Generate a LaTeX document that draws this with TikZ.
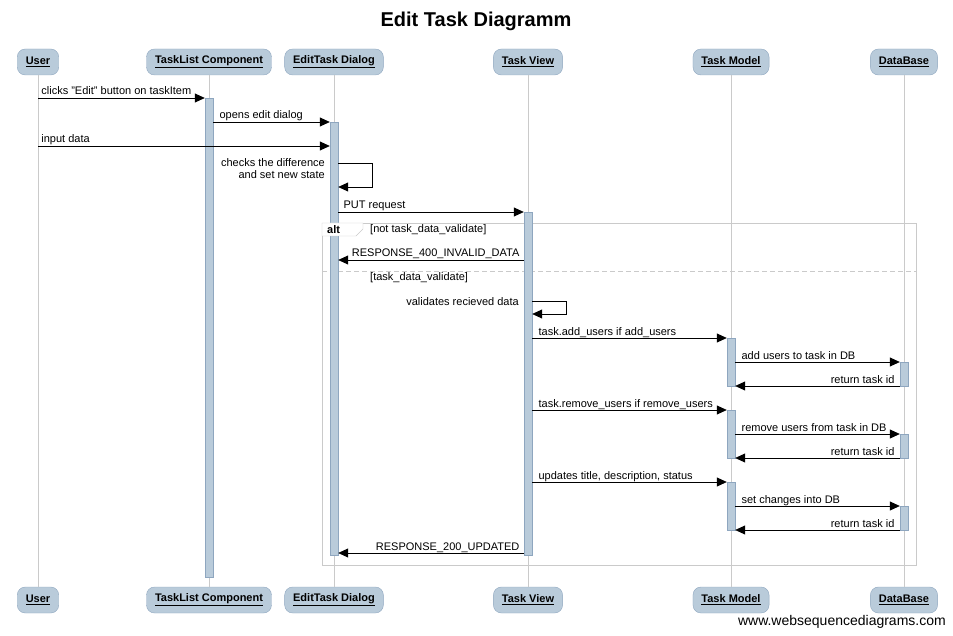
\documentclass[tikz,border=0pt]{standalone}
\usepackage{fontspec}
\setmainfont{Liberation Sans}
\usetikzlibrary{arrows.meta}
\definecolor{boxblue}{HTML}{B9CBDA}
\definecolor{boxline}{HTML}{8EA6BF}
\definecolor{lifegray}{HTML}{CACACA}

\begin{document}
\begin{tikzpicture}[x=1pt,y=-1pt,
  actor/.style={draw=boxline,fill=boxblue,rounded corners=8pt,minimum height=26pt,
    inner xsep=8.5pt,font=\fontsize{11}{13}\selectfont\bfseries},
  act/.style={draw=boxline,fill=boxblue,minimum width=8pt,inner sep=0pt,anchor=north},
  msg/.style={-{Triangle[length=10pt,width=9pt]},line width=0.8pt},
  lbl/.style={font=\fontsize{11}{13}\selectfont,inner sep=0pt}]
  \useasboundingbox (0,0) rectangle (953,636);
  \node[font=\fontsize{20}{24}\selectfont\bfseries] (title) at (476,21) {Edit Task Diagramm};
  % participants, top and bottom
  \node[actor] (usr) at (38,62) {\underline{User}};
  \node[actor] (tlc) at (209,62) {\underline{TaskList Component}};
  \node[actor] (etd) at (334,62) {\underline{EditTask Dialog}};
  \node[actor] (tv) at (528,62) {\underline{Task View}};
  \node[actor] (tm) at (731,62) {\underline{Task Model}};
  \node[actor] (db) at (904,62) {\underline{DataBase}};
  \node[actor] (usrb) at (38,600) {\underline{User}};
  \node[actor] (tlcb) at (209,600) {\underline{TaskList Component}};
  \node[actor] (etdb) at (334,600) {\underline{EditTask Dialog}};
  \node[actor] (tvb) at (528,600) {\underline{Task View}};
  \node[actor] (tmb) at (731,600) {\underline{Task Model}};
  \node[actor] (dbb) at (904,600) {\underline{DataBase}};
  \foreach \n in {usr,tlc,etd,tv,tm,db} \draw[lifegray] (\n) -- (\n b);
  % alt frame
  \draw[lifegray] (322,223) rectangle (916,565);
  \draw[lifegray,dash pattern=on 5pt off 3pt] (322,271) -- (916,271);
  \node[lbl,anchor=west] (c1) at (370,230) {[not task\_data\_validate]};
  \node[lbl,anchor=west] (c2) at (370,278) {[task\_data\_validate]};
  % activations
  \node[act,minimum height=479pt] (tlcA) at (209,98) {};
  \node[act,minimum height=433pt] (etdA) at (334,122) {};
  \node[act,minimum height=343pt] (tvA) at (528,212) {};
  \node[act,minimum height=48pt] (tmA1) at (731,338) {};
  \node[act,minimum height=48pt] (tmA2) at (731,410) {};
  \node[act,minimum height=48pt] (tmA3) at (731,482) {};
  \node[act,minimum height=24pt] (dbA1) at (904,362) {};
  \node[act,minimum height=24pt] (dbA2) at (904,434) {};
  \node[act,minimum height=24pt] (dbA3) at (904,506) {};
  % alt tab over the bar
  \draw[lifegray,fill=white] (322,223) -- (322,236) -- (356,236) -- (363,229) -- (363,223) -- cycle;
  \node[lbl,font=\fontsize{11}{13}\selectfont\bfseries,anchor=west] (alt) at (327,230) {alt};
  % messages
  \draw[msg] (usr |- 0,98) -- (tlcA.west |- 0,98)
    node[lbl,pos=0,anchor=base west,xshift=3pt,yshift=3pt] {clicks "Edit" button on taskItem};
  \draw[msg] (tlcA.east |- 0,122) -- (etdA.west |- 0,122)
    node[lbl,pos=0,anchor=base west,xshift=6pt,yshift=3pt] {opens edit dialog};
  \draw[msg] (usr |- 0,146) -- (etdA.west |- 0,146)
    node[lbl,pos=0,anchor=base west,xshift=3pt,yshift=3pt] {input data};
  \draw[msg] (etdA.east |- 0,163) -- ++(34,0) -- ++(0,24) -- (etdA.east |- 0,187);
  \node[lbl,align=right,anchor=north east,font=\fontsize{11}{12}\selectfont] (chk) at (325,158)
    {checks the difference\\and set new state};
  \draw[msg] (etdA.east |- 0,212) -- (tvA.west |- 0,212)
    node[lbl,pos=0,anchor=base west,xshift=5pt,yshift=3pt] {PUT request};
  \draw[msg] (tvA.west |- 0,260) -- (etdA.east |- 0,260)
    node[lbl,pos=0,anchor=base east,xshift=-4pt,yshift=3pt] {RESPONSE\_400\_INVALID\_DATA};
  \draw[msg] (tvA.east |- 0,301) -- ++(34,0) -- ++(0,13) -- (tvA.east |- 0,314);
  \node[lbl,anchor=east] (val) at (519,302) {validates recieved data};
  \draw[msg] (tvA.east |- 0,338) -- (tmA1.west |- 0,338)
    node[lbl,pos=0,anchor=base west,xshift=6pt,yshift=3pt] {task.add\_users if add\_users};
  \draw[msg] (tmA1.east |- 0,362) -- (dbA1.west |- 0,362)
    node[lbl,pos=0,anchor=base west,xshift=6pt,yshift=3pt] {add users to task in DB};
  \draw[msg] (dbA1.west |- 0,386) -- (tmA1.east |- 0,386)
    node[lbl,pos=0,anchor=base east,xshift=-5pt,yshift=3pt] {return task id};
  \draw[msg] (tvA.east |- 0,410) -- (tmA2.west |- 0,410)
    node[lbl,pos=0,anchor=base west,xshift=6pt,yshift=3pt] {task.remove\_users if remove\_users};
  \draw[msg] (tmA2.east |- 0,434) -- (dbA2.west |- 0,434)
    node[lbl,pos=0,anchor=base west,xshift=6pt,yshift=3pt] {remove users from task in DB};
  \draw[msg] (dbA2.west |- 0,458) -- (tmA2.east |- 0,458)
    node[lbl,pos=0,anchor=base east,xshift=-5pt,yshift=3pt] {return task id};
  \draw[msg] (tvA.east |- 0,482) -- (tmA3.west |- 0,482)
    node[lbl,pos=0,anchor=base west,xshift=6pt,yshift=3pt] {updates title, description, status};
  \draw[msg] (tmA3.east |- 0,506) -- (dbA3.west |- 0,506)
    node[lbl,pos=0,anchor=base west,xshift=6pt,yshift=3pt] {set changes into DB};
  \draw[msg] (dbA3.west |- 0,530) -- (tmA3.east |- 0,530)
    node[lbl,pos=0,anchor=base east,xshift=-5pt,yshift=3pt] {return task id};
  \draw[msg] (tvA.west |- 0,553) -- (etdA.east |- 0,553)
    node[lbl,pos=0,anchor=base east,xshift=-4pt,yshift=3pt] {RESPONSE\_200\_UPDATED};
  \node[lbl,anchor=east,font=\fontsize{14}{16}\selectfont] (wsd) at (946,622) {www.websequencediagrams.com};
\end{tikzpicture}
\end{document}
